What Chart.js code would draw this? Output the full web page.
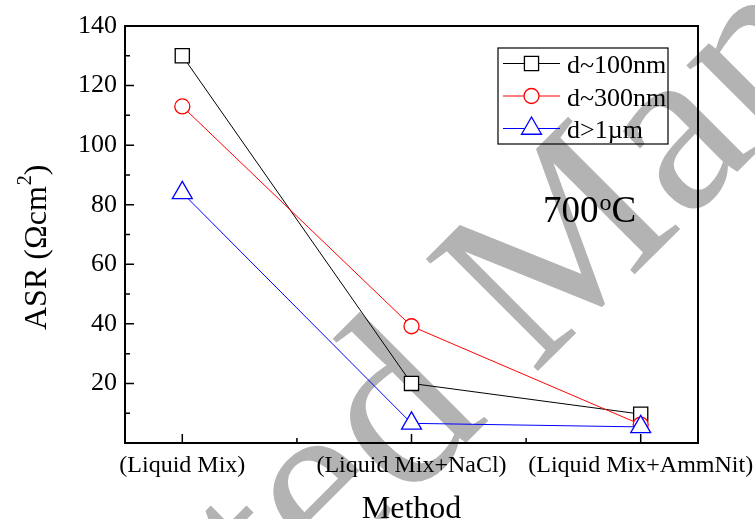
<!DOCTYPE html>
<html>
<head>
<meta charset="utf-8">
<script src="https://cdn.jsdelivr.net/npm/chart.js@4/dist/chart.umd.min.js"></script>
<style>
  html, body { margin: 0; padding: 0; background: #fff; }
  #wrap { width: 755px; height: 519px; }
</style>
</head>
<body>
<div id="wrap"><canvas id="c" width="755" height="519"></canvas></div>
<script>
// Synthesis methods along the x axis
const methods = ['(Liquid Mix)', '(Liquid Mix+NaCl)', '(Liquid Mix+AmmNit)'];
// Area specific resistance (Ω·cm²) at 700 °C, one array per particle size
const asr100nm = [130, 20, 9.7];
const asr300nm = [113, 39.2, 6.2];
const asr1um  = [84, 6.6, 5.4];
const seriesNames = ['d~100nm', 'd~300nm', 'd>1µm'];
// y axis tick values (labelled) and minor ticks
const yMajor = [20, 40, 60, 80, 100, 120, 140];
const yMinor = [10, 30, 50, 70, 90, 110, 130];
const xMinor = [1.5, 2.5];

const SERIF = '"Liberation Serif", "Times New Roman", serif';

const styles = [
  { color: '#000000', shape: 'rect', r: 10 },
  { color: '#ff0000', shape: 'circle', r: 7.5 },
  { color: '#0000ff', shape: 'triangle', r: 11.5 }
];

function toPoints(vals) { return vals.map((v, i) => ({ x: i + 1, y: v })); }

function marker(ctx, shape, x, y, r, color) {
  ctx.save();
  ctx.beginPath();
  if (shape === 'rect') {
    const s = Math.SQRT1_2 * r;
    ctx.rect(x - s, y - s, 2 * s, 2 * s);
  } else if (shape === 'circle') {
    ctx.arc(x, y, r, 0, Math.PI * 2);
  } else {
    let a = 0;
    ctx.moveTo(x + Math.sin(a) * r, y - Math.cos(a) * r);
    a += 2 * Math.PI / 3;
    ctx.lineTo(x + Math.sin(a) * r, y - Math.cos(a) * r);
    a += 2 * Math.PI / 3;
    ctx.lineTo(x + Math.sin(a) * r, y - Math.cos(a) * r);
    ctx.closePath();
  }
  ctx.fillStyle = '#fff';
  ctx.fill();
  ctx.lineWidth = 1.3;
  ctx.strokeStyle = color;
  ctx.stroke();
  ctx.restore();
}

// Grey diagonal stamp behind the plot
const stampPlugin = {
  id: 'stamp',
  beforeDraw(chart) {
    const ctx = chart.ctx;
    ctx.save();
    ctx.font = '242px ' + SERIF;
    ctx.fillStyle = '#b3b3b3';
    ctx.translate(533, 376);
    ctx.rotate(-45 * Math.PI / 180);
    const w = ctx.measureText('Accepted ').width;
    ctx.textBaseline = 'alphabetic';
    ctx.fillText('Accepted Manuscript', -w, 0);
    ctx.restore();
  }
};

// Frame, inward tick marks, titles, legend box and temperature note
const decorPlugin = {
  id: 'decor',
  afterDraw(chart) {
    const ctx = chart.ctx;
    const a = chart.chartArea;
    const xs = chart.scales.x, ys = chart.scales.y;
    ctx.save();

    // ticks
    ctx.strokeStyle = '#000';
    ctx.lineWidth = 1.5;
    ctx.beginPath();
    yMajor.forEach(v => { const y = ys.getPixelForValue(v); ctx.moveTo(a.left, y); ctx.lineTo(a.left + 9, y); });
    yMinor.forEach(v => { const y = ys.getPixelForValue(v); ctx.moveTo(a.left, y); ctx.lineTo(a.left + 5, y); });
    methods.forEach((m, i) => { const x = xs.getPixelForValue(i + 1); ctx.moveTo(x, a.bottom); ctx.lineTo(x, a.bottom - 9); });
    xMinor.forEach(v => { const x = xs.getPixelForValue(v); ctx.moveTo(x, a.bottom); ctx.lineTo(x, a.bottom - 5); });
    ctx.stroke();

    // frame
    ctx.lineWidth = 2;
    ctx.strokeRect(a.left, a.top, a.right - a.left, a.bottom - a.top);

    // x title
    ctx.fillStyle = '#000';
    ctx.font = '32px ' + SERIF;
    ctx.textAlign = 'center';
    ctx.textBaseline = 'alphabetic';
    ctx.fillText('Method', (a.left + a.right) / 2, 518);

    // y title with superscript
    ctx.save();
    ctx.translate(46, 330);
    ctx.rotate(-Math.PI / 2);
    ctx.textAlign = 'left';
    ctx.font = '32px ' + SERIF;
    const t1 = 'ASR (\u03A9cm';
    ctx.fillText(t1, 0, 0);
    let x = ctx.measureText(t1).width;
    ctx.font = '20px ' + SERIF;
    ctx.fillText('2', x + 1, -15);
    x += ctx.measureText('2').width + 1;
    ctx.font = '32px ' + SERIF;
    ctx.fillText(')', x, 0);
    ctx.restore();

    // temperature note
    ctx.textAlign = 'left';
    ctx.font = '37px ' + SERIF;
    ctx.fillText('700', 543, 222);
    let tx = 543 + ctx.measureText('700').width;
    ctx.font = '24px ' + SERIF;
    ctx.fillText('o', tx + 1, 210);
    tx += ctx.measureText('o').width + 1;
    ctx.font = '37px ' + SERIF;
    ctx.fillText('C', tx, 222);

    // legend
    ctx.lineWidth = 1.2;
    ctx.strokeStyle = '#000';
    ctx.strokeRect(498, 48, 170, 96);
    const baselines = [73, 105.5, 138];
    seriesNames.forEach((name, i) => {
      const s = styles[i];
      const ly = baselines[i] - 9.5;
      ctx.strokeStyle = s.color;
      ctx.lineWidth = 1;
      ctx.beginPath();
      ctx.moveTo(503, ly);
      ctx.lineTo(560, ly);
      ctx.stroke();
      marker(ctx, s.shape, 531.5, ly, s.r, s.color);
      ctx.fillStyle = '#000';
      ctx.font = '26px ' + SERIF;
      ctx.textAlign = 'left';
      ctx.fillText(name, 567, baselines[i]);
    });
    ctx.restore();
  }
};

const seriesData = [asr100nm, asr300nm, asr1um];
const datasets = seriesData.map((vals, i) => ({
  label: seriesNames[i],
  data: toPoints(vals),
  borderColor: styles[i].color,
  borderWidth: 1,
  pointStyle: styles[i].shape,
  pointRadius: styles[i].r,
  pointHoverRadius: styles[i].r,
  pointBackgroundColor: '#ffffff',
  pointBorderColor: styles[i].color,
  pointBorderWidth: 1.3,
  tension: 0,
  order: 2 - i
}));

new Chart(document.getElementById('c'), {
  type: 'line',
  data: { datasets },
  options: {
    responsive: false,
    animation: false,
    events: [],
    layout: { padding: { left: 0, top: 26, right: 57, bottom: 0 } },
    plugins: { legend: { display: false }, tooltip: { enabled: false } },
    scales: {
      x: {
        type: 'linear',
        min: 0.75,
        max: 3.25,
        afterBuildTicks(axis) { axis.ticks = methods.map((m, i) => ({ value: i + 1 })); },
        afterFit(scale) {
          scale.height = 76;
          scale.paddingLeft = 0;
          scale.paddingRight = 0;
        },
        grid: { display: false, drawTicks: false },
        border: { display: false },
        ticks: {
          color: '#000',
          font: { family: SERIF, size: 24 },
          padding: 8,
          maxRotation: 0,
          autoSkip: false,
          callback: v => methods[Math.round(v) - 1] || ''
        }
      },
      y: {
        min: 0,
        max: 140,
        afterBuildTicks(axis) { axis.ticks = yMajor.map(v => ({ value: v })); },
        afterFit(scale) {
          scale.width = 125;
          scale.paddingTop = 0;
          scale.paddingBottom = 0;
        },
        grid: { display: false, drawTicks: false },
        border: { display: false },
        ticks: {
          color: '#000',
          font: { family: SERIF, size: 26 },
          padding: 8
        }
      }
    }
  },
  plugins: [stampPlugin, decorPlugin]
});
</script>
</body>
</html>
